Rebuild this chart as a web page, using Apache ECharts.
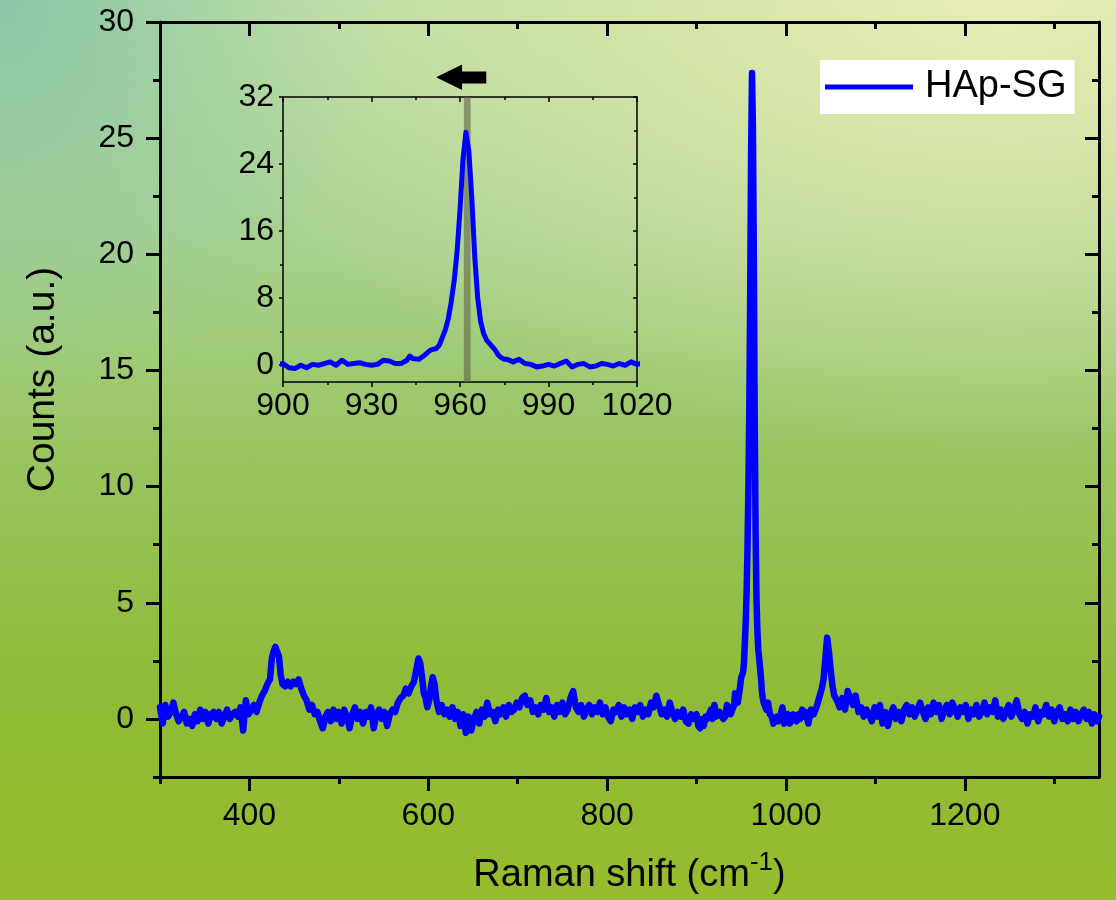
<!DOCTYPE html>
<html>
<head>
<meta charset="utf-8">
<script src="https://cdn.jsdelivr.net/npm/echarts@6/dist/echarts.min.js"></script>
<style>
html,body{margin:0;padding:0;}
#chart{
  width:1116px;height:900px;
  background:
    radial-gradient(ellipse 75% 50% at 90% 0%, rgba(232,236,182,1) 0%, rgba(222,232,168,0.75) 40%, rgba(210,225,150,0) 100%),
    radial-gradient(ellipse 35% 45% at 0% 0%, rgba(125,192,168,0.8) 0%, rgba(125,192,168,0.3) 50%, rgba(125,192,168,0) 100%),
    linear-gradient(to bottom, #b8dca6 0%, #a9d292 25%, #98c45e 52%, #8fbb36 78%, #97bc2e 100%);
}
</style>
</head>
<body>
<div id="chart"></div>
<script>
// ---- data ----
const ramanShift = [
300,303,306,309,312,315,318,321,324,327,330,333,336,339,342,345,348,351,354,357,
360,363,366,369,372,375,378,381,384,387,390,393,396,399,402,405,408,411,414,417,
420,423,425,427,429,431,433,435,437,440,443,446,449,452,455,458,461,464,467,470,
473,476,479,482,485,488,491,494,497,500,503,506,509,512,515,518,521,524,527,530,
533,536,539,542,545,548,551,554,557,560,563,566,569,572,575,578,581,584,587,589,
591,593,595,597,599,601,603,605,607,609,612,615,618,621,624,627,630,633,636,639,
642,645,648,651,654,657,660,663,666,669,672,675,678,681,684,687,690,693,696,699,
702,705,708,711,714,717,720,723,726,729,732,735,738,741,744,747,750,753,756,759,
762,765,768,771,774,777,780,783,786,789,792,795,798,801,804,807,810,813,816,819,
822,825,828,831,834,837,840,843,846,849,852,855,858,861,864,867,870,873,876,879,
882,885,888,891,894,897,
900,902,904,906,908,910,912,914,916,918,920,922,924,926,928,930,932,934,936,938,
940,942,943,944,946,948,950,952,953,954,955,956,957,958,959,960,961,962,963,964,
965,966,967,968,969,970,971,972,973,974,975,976,978,980,982,984,986,988,990,992,
994,996,998,1000,1002,1004,1006,1008,1010,1012,1014,1016,1018,1020,
1022,1025,1028,1031,1034,1037,1040,1042,1044,1046,1048,1050,1052,1054,1057,1060,
1063,1066,1069,1072,1075,1078,1081,1084,1087,1090,1093,1096,1099,1102,1105,1108,
1111,1114,1117,1120,1123,1126,1129,1132,1135,1138,1141,1144,1147,1150,1153,1156,
1159,1162,1165,1168,1171,1174,1177,1180,1183,1186,1189,1192,1195,1198,1201,1204,
1207,1210,1213,1216,1219,1222,1225,1228,1231,1234,1237,1240,1243,1246,1249,1252,
1255,1258,1261,1264,1267,1270,1273,1276,1279,1282,1285,1288,1291,1294,1297,1300,
1303,1306,1309,1312,1315,1318,1321,1324,1327,1330,1333,1336,1339,1342,1345,1348,1350
];
const counts = [
0.5,-0.2,0.6,0.1,0.3,0.7,0.2,-0.1,0.1,0.3,-0.2,0.0,-0.3,0.2,-0.1,0.4,0.0,0.3,-0.2,0.2,
0.3,0.0,0.3,-0.2,0.1,0.4,0.0,0.2,0.3,0.1,0.5,-0.5,0.8,0.2,0.4,0.6,0.3,0.7,1.0,1.2,
1.5,1.7,2.6,2.9,3.1,2.9,2.7,1.9,1.5,1.4,1.6,1.4,1.6,1.5,1.7,1.3,1.0,0.8,0.4,0.6,
0.2,0.3,-0.1,-0.4,0.1,0.3,-0.1,0.4,0.0,0.3,-0.2,0.4,0.1,-0.4,0.2,0.5,0.0,0.3,-0.2,0.3,
0.1,0.5,-0.4,0.2,0.4,0.0,0.3,-0.3,0.2,0.4,0.3,0.7,0.9,1.0,1.3,1.1,1.4,1.6,2.2,2.6,
2.4,1.8,1.1,0.9,0.5,0.8,1.4,1.8,1.5,0.8,0.3,0.6,0.2,0.4,0.1,0.5,0.0,0.3,-0.3,0.2,
-0.6,0.1,-0.5,0.0,0.3,-0.2,0.4,0.1,0.7,0.2,0.3,-0.1,0.4,0.2,0.5,0.1,0.6,0.3,0.4,0.7,
0.5,0.9,1.0,0.6,0.8,0.3,0.5,0.2,0.6,0.4,0.9,0.3,0.5,0.1,0.6,0.3,0.7,0.2,0.4,0.9,
1.2,0.5,0.3,0.6,0.1,0.4,0.6,0.2,0.5,0.3,0.7,0.2,0.5,0.1,-0.1,0.4,0.3,0.6,0.1,0.5,
0.2,0.4,0.0,0.5,0.3,0.6,0.1,0.4,0.2,0.7,0.5,1.0,0.6,0.2,0.4,0.1,0.7,0.3,0.0,0.3,
0.1,0.4,-0.1,-0.2,0.2,0.0,
0.2,-0.3,-0.4,0.0,-0.3,0.1,0.0,0.2,0.4,0.0,0.6,0.1,0.2,0.3,0.1,0.0,0.1,0.6,0.5,0.2,
0.2,0.6,1.1,0.8,0.7,1.2,1.8,2.0,2.4,3.3,4.2,5.5,7.5,10.0,13.5,18.5,24.5,27.8,25.5,20.0,
13.0,8.0,5.2,3.8,3.0,2.6,2.2,1.8,1.2,0.9,0.7,0.7,0.4,0.7,0.2,0.1,-0.2,-0.1,0.1,-0.1,
0.2,0.5,-0.2,0.1,0.2,-0.2,-0.1,0.2,0.1,-0.1,0.2,0.0,0.4,0.1,
0.3,-0.2,0.4,0.2,0.5,0.9,1.3,1.7,2.6,3.5,2.9,2.1,1.4,1.0,0.8,0.5,
0.9,0.4,1.2,0.9,0.6,1.0,0.3,0.5,0.1,0.4,0.2,-0.1,0.5,0.1,0.6,-0.2,
0.3,-0.3,0.2,0.5,0.0,0.3,-0.1,0.4,0.6,0.2,0.5,0.1,0.4,0.7,0.3,0.0,
0.5,0.2,0.7,0.3,0.6,0.0,0.4,0.6,0.2,0.7,0.4,0.1,0.5,0.3,0.6,0.0,
0.4,0.2,0.6,0.1,0.3,0.7,0.2,0.5,0.3,0.8,0.1,0.4,0.0,0.3,0.6,0.1,
0.4,0.8,0.2,0.0,0.3,-0.2,0.2,0.1,0.5,-0.1,0.3,0.2,0.6,0.1,0.4,-0.1,
0.3,0.5,0.0,0.2,-0.1,0.4,0.0,0.3,-0.1,0.2,0.4,0.0,0.3,-0.2,0.2,-0.1,0.1
];
const seriesName = 'HAp-SG';
const mainXMajor = [400, 600, 800, 1000, 1200];
const mainXMinor = [300, 500, 700, 900, 1100, 1300];
const mainYMajor = [0, 5, 10, 15, 20, 25, 30];
const mainYMinor = [-2.5, 2.5, 7.5, 12.5, 17.5, 22.5, 27.5];
const insetYMajor = [0, 8, 16, 24, 32];
const insetYMinor = [4, 12, 20, 28];
const markerBand = [961.3, 963.6];

// ---- chart ----
const FONT = 'Liberation Sans, Arial, sans-serif';
const plain = v => String(v);
const points = ramanShift.map((x, i) => [x, counts[i]]);
const chart = echarts.init(document.getElementById('chart'), null, {renderer: 'canvas'});

const mainLine = {show: true, onZero: false, lineStyle: {color: '#000', width: 3}};
const insetLine = {show: true, onZero: false, lineStyle: {color: '#000', width: 1.5}};
const hiddenLine = {show: false, onZero: false};
const noLabel = {show: false};

const xAxes = [
  {gridIndex: 0, type: 'value', min: 300, max: 1350, position: 'bottom',
   axisLine: mainLine, splitLine: {show: false},
   axisTick: {show: true, customValues: mainXMajor, length: 14, lineStyle: {width: 3, color: '#000'}},
   axisLabel: {show: true, customValues: mainXMajor, formatter: plain, margin: 23, fontSize: 32, color: '#000', fontFamily: FONT},
   name: 'Raman shift (cm{sup|-1})', nameLocation: 'middle', nameGap: 73,
   nameTextStyle: {fontSize: 38, color: '#000', fontFamily: FONT,
     rich: {sup: {fontSize: 26, color: '#000', fontFamily: FONT, padding: [0, 0, 26, 0]}}}},
  {gridIndex: 0, type: 'value', min: 300, max: 1350, position: 'bottom',
   axisLine: hiddenLine, splitLine: {show: false}, axisLabel: noLabel,
   axisTick: {show: true, customValues: mainXMinor, length: 7, lineStyle: {width: 3, color: '#000'}}},
  {gridIndex: 0, type: 'value', min: 300, max: 1350, position: 'top',
   axisLine: mainLine, splitLine: {show: false}, axisLabel: noLabel,
   axisTick: {show: true, inside: true, customValues: mainXMajor, length: 14, lineStyle: {width: 3, color: '#000'}}},
  {gridIndex: 0, type: 'value', min: 300, max: 1350, position: 'top',
   axisLine: hiddenLine, splitLine: {show: false}, axisLabel: noLabel,
   axisTick: {show: true, inside: true, customValues: mainXMinor, length: 7, lineStyle: {width: 3, color: '#000'}}},
  {gridIndex: 1, type: 'value', min: 900, max: 1020, interval: 30, position: 'bottom',
   axisLine: insetLine, splitLine: {show: false},
   axisTick: {show: true, length: 5, lineStyle: {width: 1.5, color: '#000'}},
   minorTick: {show: true, splitNumber: 2, length: 3, lineStyle: {width: 1.5, color: '#000'}},
   minorSplitLine: {show: false},
   axisLabel: {show: true, formatter: plain, margin: 8, fontSize: 32, color: '#000', fontFamily: FONT, hideOverlap: false,
     showMinLabel: true, showMaxLabel: true}},
  {gridIndex: 1, type: 'value', min: 900, max: 1020, interval: 30, position: 'top',
   axisLine: insetLine, splitLine: {show: false}, axisLabel: noLabel,
   axisTick: {show: true, inside: true, length: 5, lineStyle: {width: 1.5, color: '#000'}},
   minorTick: {show: true, splitNumber: 2, length: 3, lineStyle: {width: 1.5, color: '#000'}},
   minorSplitLine: {show: false}}
];

const yAxes = [
  {gridIndex: 0, type: 'value', min: -2.5, max: 30, position: 'left',
   axisLine: mainLine, splitLine: {show: false},
   axisTick: {show: true, customValues: mainYMajor, length: 14, lineStyle: {width: 3, color: '#000'}},
   axisLabel: {show: true, customValues: mainYMajor, formatter: plain, margin: 26, fontSize: 32, color: '#000', fontFamily: FONT},
   name: 'Counts (a.u.)', nameLocation: 'middle', nameGap: 97,
   nameTextStyle: {fontSize: 39, color: '#000', fontFamily: FONT, padding: [0, 0, 0, 40]}},
  {gridIndex: 0, type: 'value', min: -2.5, max: 30, position: 'left',
   axisLine: hiddenLine, splitLine: {show: false}, axisLabel: noLabel,
   axisTick: {show: true, customValues: mainYMinor, length: 7, lineStyle: {width: 3, color: '#000'}}},
  {gridIndex: 0, type: 'value', min: -2.5, max: 30, position: 'right',
   axisLine: mainLine, splitLine: {show: false}, axisLabel: noLabel,
   axisTick: {show: true, inside: true, customValues: mainYMajor, length: 14, lineStyle: {width: 3, color: '#000'}}},
  {gridIndex: 0, type: 'value', min: -2.5, max: 30, position: 'right',
   axisLine: hiddenLine, splitLine: {show: false}, axisLabel: noLabel,
   axisTick: {show: true, inside: true, customValues: mainYMinor, length: 7, lineStyle: {width: 3, color: '#000'}}},
  {gridIndex: 1, type: 'value', min: -2, max: 32, position: 'left',
   axisLine: insetLine, splitLine: {show: false},
   axisTick: {show: true, customValues: insetYMajor, length: 4, lineStyle: {width: 1.5, color: '#000'}},
   axisLabel: {show: true, customValues: insetYMajor, formatter: plain, margin: 9, fontSize: 32, color: '#000', fontFamily: FONT}},
  {gridIndex: 1, type: 'value', min: -2, max: 32, position: 'left',
   axisLine: hiddenLine, splitLine: {show: false}, axisLabel: noLabel,
   axisTick: {show: true, customValues: insetYMinor, length: 3, lineStyle: {width: 1.5, color: '#000'}}},
  {gridIndex: 1, type: 'value', min: -2, max: 32, position: 'right',
   axisLine: insetLine, splitLine: {show: false}, axisLabel: noLabel,
   axisTick: {show: true, inside: true, customValues: insetYMajor, length: 4, lineStyle: {width: 1.5, color: '#000'}}},
  {gridIndex: 1, type: 'value', min: -2, max: 32, position: 'right',
   axisLine: hiddenLine, splitLine: {show: false}, axisLabel: noLabel,
   axisTick: {show: true, inside: true, customValues: insetYMinor, length: 3, lineStyle: {width: 1.5, color: '#000'}}}
];

const option = {
  backgroundColor: 'transparent',
  animation: false,
  textStyle: {fontFamily: FONT},
  grid: [
    {left: 160, top: 22, width: 939, height: 755, containLabel: false},
    {left: 283, top: 97, width: 354, height: 285, containLabel: false}
  ],
  legend: {
    data: [seriesName],
    left: 820, top: 60,
    backgroundColor: '#ffffff',
    padding: [7, 8, 7, 5],
    itemWidth: 88, itemHeight: 5, icon: 'rect',
    textStyle: {fontSize: 38, color: '#000', fontFamily: FONT, lineHeight: 40, padding: [0, 0, 0, 7]}
  },
  xAxis: xAxes,
  yAxis: yAxes,
  series: [
    {name: seriesName, type: 'line', xAxisIndex: 0, yAxisIndex: 0, data: points,
     showSymbol: false, symbol: 'none', smooth: false,
     lineStyle: {color: '#0000ff', width: 6.5, join: 'round', cap: 'round'},
     itemStyle: {color: '#0000ff'}, z: 5},
    {name: 'inset', type: 'line', xAxisIndex: 4, yAxisIndex: 4, data: points,
     showSymbol: false, symbol: 'none', smooth: false, clip: true,
     lineStyle: {color: '#0000ff', width: 5, join: 'round', cap: 'round'},
     itemStyle: {color: '#0000ff'}, z: 5,
     markArea: {silent: true, z: 1,
       itemStyle: {color: 'rgba(95,100,70,0.6)'},
       data: [[{xAxis: markerBand[0]}, {xAxis: markerBand[1]}]]}}
  ]
};
chart.setOption(option);

// arrow annotation above the inset (in inset data coordinates)
const arrowShape = [[951.9, 34.36], [960.7, 35.87], [960.7, 35.04], [968.9, 35.04],
                    [968.9, 33.61], [960.7, 33.61], [960.7, 32.84]];
const arrowPts = arrowShape.map(p => chart.convertToPixel({xAxisIndex: 4, yAxisIndex: 4}, p));
chart.setOption({
  graphic: [{type: 'polygon', shape: {points: arrowPts}, style: {fill: '#000'}, z: 10}]
});
</script>
</body>
</html>
